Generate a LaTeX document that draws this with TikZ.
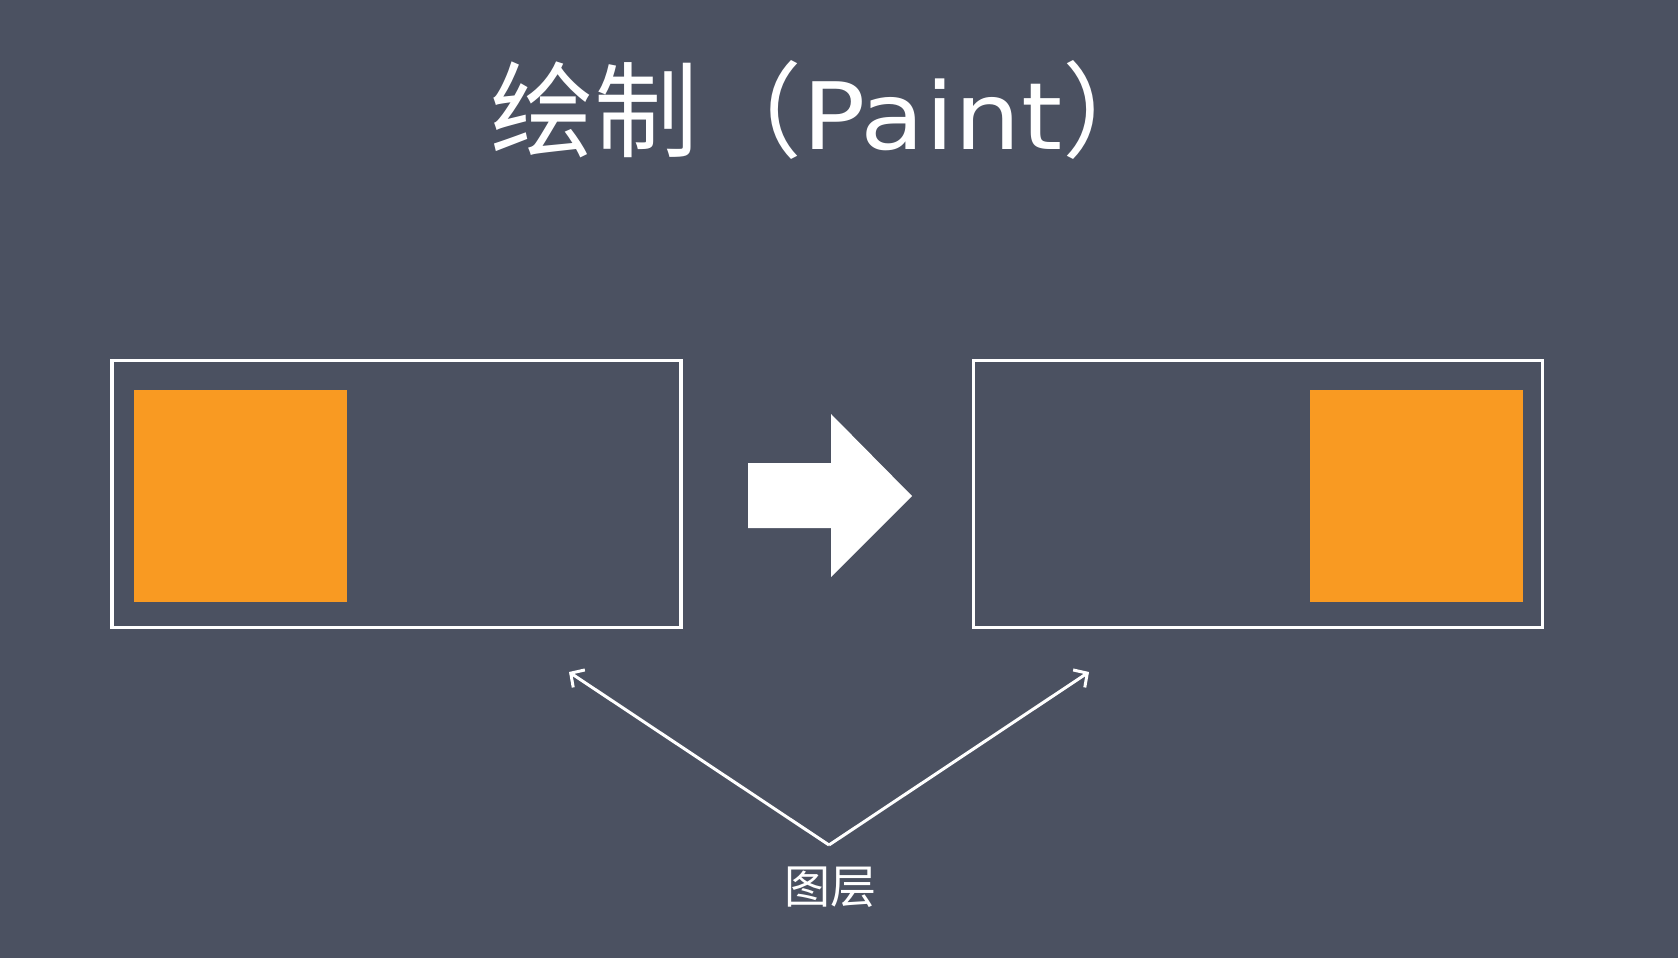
\documentclass[tikz,border=0pt]{standalone}
\usepackage{fontspec}
\setmainfont{Noto Sans CJK SC}
\newfontfamily\latinfont[FakeStretch=1.13]{DejaVu Sans}
\usepackage{xcolor}
\usetikzlibrary{arrows.meta, positioning}
\definecolor{board}{HTML}{4B5161}
\definecolor{paint}{HTML}{F99A22}

\begin{document}
\begin{tikzpicture}[
    x=1pt, y=-1pt,
    frame/.style={rectangle, draw=white, line width=3.2pt, minimum width=569pt, minimum height=267pt, inner sep=0pt},
    block/.style={rectangle, fill=paint, minimum width=213pt, minimum height=212pt, inner sep=0pt},
    pointer/.style={-{Straight Barb[length=10pt, width=21pt]}, draw=white, line width=3pt}
]

% chalkboard
\fill[board] (0,0) rectangle (1678,958);
\useasboundingbox (0,0) rectangle (1678,958);

\node[anchor=base west, inner sep=0pt, text=white, font=\fontsize{104}{120}\selectfont] (title) at (490,149) {绘制（{\latinfont\fontsize{93}{110}\selectfont Paint}）};

\node[frame] (before) at (396.5,494) {};
\node[frame] (after) at (1258,494) {};
\node[block, anchor=west] (oldsq) at ([xshift=23.5pt, yshift=-2pt]before.west) {};
\node[block, anchor=east] (newsq) at ([xshift=-20.5pt, yshift=-2pt]after.east) {};

% big arrow between the frames
\fill[white] (748,463) -- (831,463) -- (831,414) -- (912,496) -- (831,577) -- (831,528) -- (748,528) -- cycle;

\node[inner sep=0pt, text=white, font=\fontsize{46}{55}\selectfont] (layer) at (830,887) {图层};
\coordinate (apex) at (829,845);
\coordinate (toold) at (569,672);
\coordinate (tonew) at (1089,672);
\draw[pointer] (apex) -- (toold);
\draw[pointer] (apex) -- (tonew);

\end{tikzpicture}
\end{document}
